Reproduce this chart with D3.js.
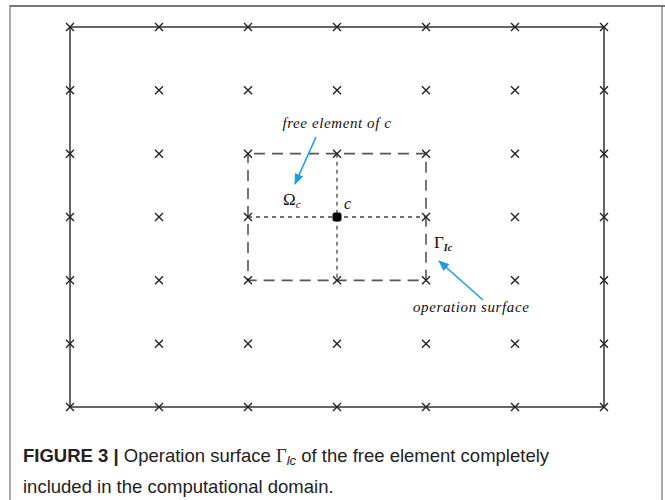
<!DOCTYPE html>
<html><head><meta charset="utf-8">
<script src="https://cdn.jsdelivr.net/npm/d3@7"></script>
<style>body{margin:0;background:#fff}svg{display:block}</style>
</head><body>
<script>
// ---- data ----
const gridCols = [0, 1, 2, 3, 4, 5, 6];
const gridRows = [0, 1, 2, 3, 4, 5, 6];
const freeElement = [2, 4];        // column/row index range of the free element
const centerNode = [3, 3];         // node c
const captionBold = "FIGURE 3 |";
const captionLine1 = " Operation surface ";
const captionLine1b = " of the free element completely";
const captionLine2 = "included in the computational domain.";

const W = 665, H = 500;
const svg = d3.select("body").append("svg").attr("width", W).attr("height", H);

// page frame
svg.append("rect").attr("x", 10).attr("y", 6).attr("width", 652).attr("height", 520)
  .attr("fill", "none").attr("stroke", "#aaa").attr("stroke-width", 2);
svg.append("line").attr("x1", 10).attr("x2", 665).attr("y1", 6).attr("y2", 6)
  .attr("stroke", "#777").attr("stroke-width", 2);

const x = d3.scaleLinear().domain([0, 6]).range([70, 604]);
const y = d3.scaleLinear().domain([0, 6]).range([27, 407]);

const g = svg.append("g");

// outer domain boundary
g.append("rect").attr("x", x(0)).attr("y", y(0))
  .attr("width", x(6) - x(0)).attr("height", y(6) - y(0))
  .attr("fill", "none").attr("stroke", "#333").attr("stroke-width", 1.5);

// free element dotted cross
const [a, b] = freeElement;
g.append("line").attr("x1", x(a)).attr("x2", x(b)).attr("y1", y(centerNode[1])).attr("y2", y(centerNode[1]))
  .attr("stroke", "#444").attr("stroke-width", 1.3).attr("stroke-dasharray", "4,4");
g.append("line").attr("x1", x(centerNode[0])).attr("x2", x(centerNode[0])).attr("y1", y(a)).attr("y2", y(b))
  .attr("stroke", "#444").attr("stroke-width", 1.3).attr("stroke-dasharray", "4,4");

// operation surface dashed rect
g.append("rect").attr("x", x(a)).attr("y", y(a))
  .attr("width", x(b) - x(a)).attr("height", y(b) - y(a))
  .attr("fill", "none").attr("stroke", "#555").attr("stroke-width", 1.6)
  .attr("stroke-dasharray", "11,7").attr("stroke-dashoffset", -6);

// grid node crosses
const nodes = [];
gridRows.forEach(r => gridCols.forEach(c => nodes.push([c, r])));
const s = 4;
g.selectAll("path.node").data(nodes.filter(d => !(d[0] === centerNode[0] && d[1] === centerNode[1])))
  .join("path").attr("class", "node")
  .attr("d", d => `M${x(d[0]) - s},${y(d[1]) - s}L${x(d[0]) + s},${y(d[1]) + s}M${x(d[0]) - s},${y(d[1]) + s}L${x(d[0]) + s},${y(d[1]) - s}`)
  .attr("stroke", "#222").attr("stroke-width", 1.4).attr("fill", "none");

// center node c
g.append("rect").attr("x", x(centerNode[0]) - 4.5).attr("y", y(centerNode[1]) - 4.5)
  .attr("width", 9).attr("height", 9).attr("rx", 2.5).attr("fill", "#000");

// labels
const serif = "'Liberation Serif','DejaVu Serif',serif";
g.append("text").attr("x", x(3) - 0).attr("y", 128).attr("text-anchor", "middle")
  .attr("font-family", serif).attr("font-style", "italic").attr("font-size", 15).attr("fill", "#111")
  .attr("letter-spacing", 0.6).text("free element of c");
g.append("text").attr("x", 413).attr("y", 312)
  .attr("font-family", serif).attr("font-style", "italic").attr("font-size", 15).attr("fill", "#111")
  .attr("letter-spacing", 0.6).text("operation surface");

const om = g.append("text").attr("x", 283).attr("y", 205).attr("font-family", serif).attr("font-size", 17).attr("fill", "#111");
om.append("tspan").text("Ω");
om.append("tspan").attr("font-style", "italic").attr("font-size", 11).attr("dy", 3).text("c");

g.append("text").attr("x", 344).attr("y", 209).attr("font-family", serif).attr("font-style", "italic")
  .attr("font-size", 16).attr("fill", "#111").text("c");

const gm = g.append("text").attr("x", 434).attr("y", 248).attr("font-family", serif).attr("font-size", 17).attr("fill", "#111");
gm.append("tspan").text("Γ");
gm.append("tspan").attr("font-style", "italic").attr("font-weight", "bold").attr("font-size", 10).attr("dy", 3).text("Ic");

// arrows
const defs = svg.append("defs");
defs.append("marker").attr("id", "ah").attr("viewBox", "0 0 10 10").attr("refX", 9).attr("refY", 5)
  .attr("markerWidth", 7).attr("markerHeight", 7).attr("orient", "auto")
  .append("path").attr("d", "M0,1L10,5L0,9Z").attr("fill", "#1a9fe0");
g.append("line").attr("x1", 316).attr("y1", 137).attr("x2", 295).attr("y2", 184)
  .attr("stroke", "#1a9fe0").attr("stroke-width", 1.6).attr("marker-end", "url(#ah)");
g.append("line").attr("x1", 483).attr("y1", 300).attr("x2", 439).attr("y2", 261)
  .attr("stroke", "#1a9fe0").attr("stroke-width", 1.6).attr("marker-end", "url(#ah)");

// caption
const sans = "'Liberation Sans',Arial,sans-serif";
const cap = svg.append("text").attr("x", 23).attr("y", 462).attr("font-family", sans).attr("font-size", 18.5).attr("fill", "#222");
cap.append("tspan").attr("font-weight", "bold").text(captionBold);
cap.append("tspan").text(captionLine1);
cap.append("tspan").attr("font-family", serif).text("Γ");
cap.append("tspan").attr("font-style", "italic").attr("font-size", 13).attr("dy", 3).text("lc");
cap.append("tspan").attr("dy", -3).text(captionLine1b);
svg.append("text").attr("x", 23).attr("y", 493).attr("font-family", sans).attr("font-size", 18.5).attr("fill", "#222")
  .text(captionLine2);
</script>
</body></html>
